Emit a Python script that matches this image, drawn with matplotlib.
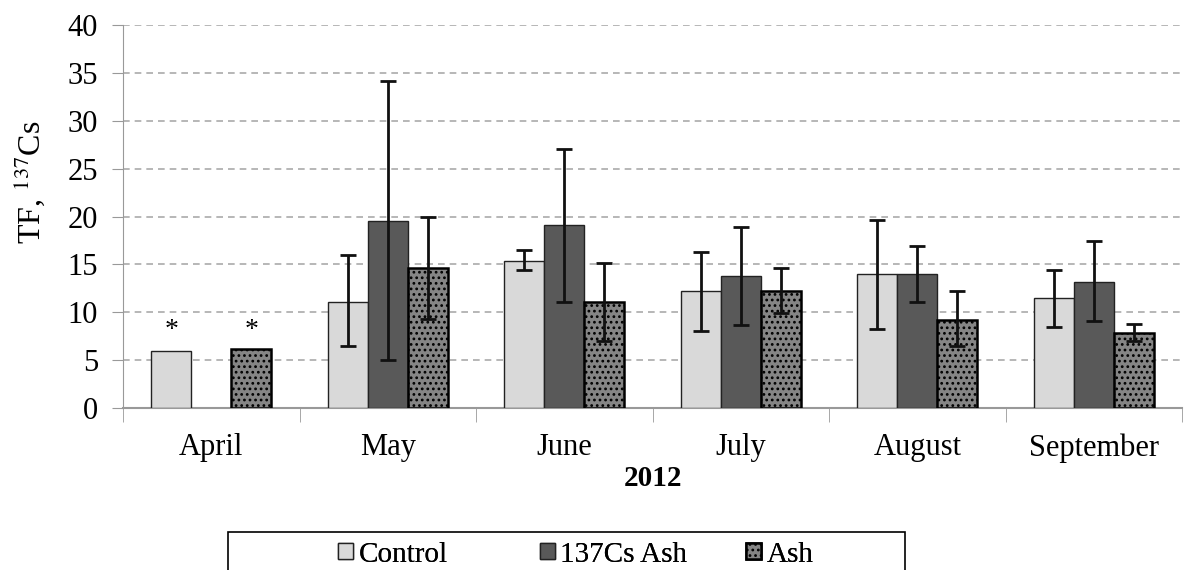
import numpy as np
import matplotlib
matplotlib.use("Agg")
import matplotlib.pyplot as plt
from matplotlib.patches import Rectangle

plt.rcParams['font.family'] = ['Liberation Serif', 'DejaVu Serif']
plt.rcParams['mathtext.fontset'] = 'stix'
plt.rcParams['hatch.linewidth'] = 1.2

months = ["April", "May", "June", "July", "August", "September"]
series = ["Control", "137Cs Ash", "Ash"]

control = [6.0, 11.1, 15.4, 12.2, 14.0, 11.5]
cs_ash = [np.nan, 19.5, 19.1, 13.8, 14.0, 13.2]
ash = [6.2, 14.6, 11.1, 12.2, 9.2, 7.8]

# error bar ends (low, high)
control_lo = [np.nan, 6.5, 14.4, 8.1, 8.3, 8.5]
control_hi = [np.nan, 16.0, 16.5, 16.3, 19.6, 14.4]
cs_ash_lo = [np.nan, 5.0, 11.1, 8.7, 11.1, 9.1]
cs_ash_hi = [np.nan, 34.2, 27.1, 18.9, 16.9, 17.4]
ash_lo = [np.nan, 9.3, 7.0, 9.9, 6.5, 7.0]
ash_hi = [np.nan, 20.0, 15.2, 14.6, 12.2, 8.8]

fig = plt.figure(figsize=(11.86, 5.70), dpi=100)
ax = fig.add_axes([0.1037, 0.284, 0.893, 0.672])

x = np.arange(len(months))
w = 0.227

def errs(vals, lo, hi):
    v = np.array(vals, dtype=float)
    return [v - np.array(lo), np.array(hi) - v]

ax.bar(x - w, control, w, color='#d9d9d9', edgecolor='#222222', linewidth=1.0, label=series[0], zorder=3)
ax.bar(x, cs_ash, w, color='#595959', edgecolor='#222222', linewidth=1.0, label=series[1], zorder=3)
ax.bar(x + w, ash, w, color='#858585', edgecolor='black', hatch='...', linewidth=1.8, label=series[2], zorder=3)

ekw = dict(fmt='none', ecolor='#111111', elinewidth=2, capsize=6, capthick=2, zorder=4)
ax.errorbar(x - w, control, yerr=errs(control, control_lo, control_hi), **ekw)
ax.errorbar(x, cs_ash, yerr=errs(cs_ash, cs_ash_lo, cs_ash_hi), **ekw)
ax.errorbar(x + w, ash, yerr=errs(ash, ash_lo, ash_hi), **ekw)

# asterisks above April bars
ax.text(x[0] - w, control[0] + 0.8, '*', ha='center', va='bottom', fontsize=20)
ax.text(x[0] + w, ash[0] + 0.6, '*', ha='center', va='bottom', fontsize=20)

ax.set_ylim(0, 40)
ax.set_yticks(range(0, 41, 5))
ax.set_xlim(-0.5, len(months) - 0.5)
ax.set_xticks(x)
ax.set_xticklabels(months)
ax.set_xticks(np.arange(-0.5, len(months)), minor=True)
ax.tick_params(axis='x', which='major', length=0, labelsize=22, pad=18)
ax.tick_params(axis='x', which='minor', length=10, color='#999999', direction='out')
ax.tick_params(axis='y', labelsize=22, length=8, color='#999999', direction='out', pad=10)
ax.yaxis.grid(True, linestyle=(0, (4, 3)), color='#aaaaaa', linewidth=1.2, zorder=0)
for s in ['top', 'right']:
    ax.spines[s].set_visible(False)
ax.spines['left'].set_color('#999999')
ax.spines['bottom'].set_color('#999999')
ax.spines['bottom'].set_linewidth(1.5)

ax.set_ylabel('TF, $^{137}$Cs', fontsize=23)
ax.yaxis.set_label_coords(-0.072, 0.59)
ax.set_xlabel('2012', fontsize=21, fontweight='bold', labelpad=2)

# legend box (wide, runs off the bottom edge like the original)
fig.patches.append(Rectangle((228 / 1186, -0.05), 677 / 1186, 0.05 + 38 / 570,
                             transform=fig.transFigure, facecolor='white',
                             edgecolor='black', linewidth=1.2, zorder=0))
# Excel-style equal-width legend columns
handles, labels = ax.get_legend_handles_labels()
leg_x = [338 / 1186, 540 / 1186, 746 / 1186]
for h, l, lx in zip(handles, labels, leg_x):
    leg = fig.legend([h], [l], loc='upper left', bbox_to_anchor=(lx, 0.05), fontsize=21,
                     frameon=False, handlelength=0.5, handleheight=0.5, handletextpad=0.2,
                     borderpad=0, borderaxespad=0)
    fig.add_artist(leg)

fig.savefig('out.png', dpi=100)
